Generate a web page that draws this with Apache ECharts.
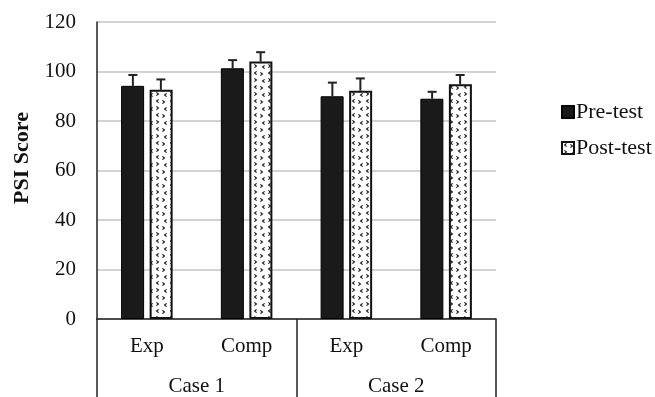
<!DOCTYPE html>
<html>
<head>
<meta charset="utf-8">
<script src="https://cdn.jsdelivr.net/npm/echarts@6/dist/echarts.min.js"></script>
<style>
  html, body { margin: 0; padding: 0; background: #fff; }
  #chart { width: 655px; height: 397px; }
</style>
</head>
<body>
<div id="chart"></div>
<script>
// Group labels on the two-level category axis
const conditions = ['Exp', 'Comp', 'Exp', 'Comp'];
const cases = ['Case 1', 'Case 2'];
const yTicks = [0, 20, 40, 60, 80, 100, 120];
const yTitle = 'PSI Score';

// Mean PSI scores and upper error (mean + SD) per condition
const preTest = [94.2, 101.3, 90.0, 89.0];
const preTestUpper = [98.6, 104.6, 95.5, 91.8];
const postTest = [92.6, 104.0, 92.2, 94.8];
const postTestUpper = [96.8, 107.8, 97.2, 98.6];

const FONT = '"Liberation Serif", "Times New Roman", serif';

// Dotted chevron fill used for the post-test bars
function makePattern() {
  const c = document.createElement('canvas');
  c.width = 14; c.height = 14;
  const g = c.getContext('2d');
  g.fillStyle = '#fff';
  g.fillRect(0, 0, 14, 14);
  g.strokeStyle = '#1a1a1a';
  g.lineWidth = 1.2;
  const chev = (x, y, dir) => {
    g.beginPath();
    g.moveTo(x + dir * 1.6, y - 1.6);
    g.lineTo(x - dir * 0.4, y);
    g.lineTo(x + dir * 1.6, y + 1.6);
    g.stroke();
  };
  chev(3, 3, 1);
  chev(10, 4, -1);
  chev(4, 10, -1);
  chev(11, 11, 1);
  return c;
}
const pattern = { image: makePattern(), repeat: 'repeat' };

function errorSeries(name, upper, base, offset) {
  return {
    type: 'custom',
    name: name + ' err',
    xAxisIndex: 0,
    silent: true,
    z: 5,
    data: upper.map((u, i) => [i, base[i], u]),
    renderItem: function (params, api) {
      const top = api.coord([api.value(0), api.value(2)]);
      const bot = api.coord([api.value(0), api.value(1)]);
      const x = top[0] + offset;
      const style = { stroke: '#222', lineWidth: 2 };
      return {
        type: 'group',
        children: [
          { type: 'line', shape: { x1: x, y1: bot[1], x2: x, y2: top[1] }, style: style },
          { type: 'line', shape: { x1: x - 4.5, y1: top[1], x2: x + 4.5, y2: top[1] }, style: style }
        ]
      };
    }
  };
}

const chart = echarts.init(document.getElementById('chart'));
chart.setOption({
  animation: false,
  backgroundColor: '#fff',
  textStyle: { fontFamily: FONT },
  grid: { left: 97, right: 159, top: 22, bottom: 78 },
  graphic: [{
    type: 'text',
    x: 22,
    y: 158,
    rotation: Math.PI / 2,
    style: {
      text: yTitle,
      font: 'bold 22px ' + FONT,
      fill: '#111',
      align: 'center',
      verticalAlign: 'middle'
    }
  }],
  legend: {
    orient: 'vertical',
    left: 556,
    top: 96,
    icon: 'rect',
    itemWidth: 12,
    itemHeight: 12,
    itemGap: 14,
    data: ['Pre-test', 'Post-test'],
    textStyle: { fontFamily: FONT, fontSize: 22, color: '#111', padding: [0, 0, 0, -3] }
  },
  xAxis: [
    {
      type: 'category',
      data: conditions,
      position: 'bottom',
      axisLine: { show: true, lineStyle: { color: '#222', width: 1.5 } },
      axisTick: { show: false },
      axisLabel: { fontFamily: FONT, fontSize: 21, color: '#111', margin: 17 }
    },
    {
      type: 'category',
      data: cases,
      position: 'bottom',
      axisLine: { show: false },
      axisTick: { show: true, length: 80, lineStyle: { color: '#222', width: 1.5 } },
      axisLabel: { fontFamily: FONT, fontSize: 21, color: '#111', margin: 57 }
    }
  ],
  yAxis: {
    type: 'value',
    min: yTicks[0],
    max: yTicks[yTicks.length - 1],
    interval: 20,
    axisLine: { show: true, lineStyle: { color: '#222', width: 1.5 } },
    axisTick: { show: false },
    axisLabel: { fontFamily: FONT, fontSize: 21, color: '#111', margin: 21 },
    splitLine: { lineStyle: { color: '#c4c4c4', width: 1.5 } }
  },
  series: [
    {
      type: 'bar',
      name: 'Pre-test',
      xAxisIndex: 0,
      data: preTest,
      barWidth: 23,
      barGap: '24%',
      itemStyle: { color: '#1a1a1a', borderColor: '#000', borderWidth: 1 }
    },
    {
      type: 'bar',
      name: 'Post-test',
      xAxisIndex: 0,
      data: postTest,
      barWidth: 23,
      itemStyle: { color: pattern, borderColor: '#111', borderWidth: 2 }
    },
    errorSeries('Pre-test', preTestUpper, preTest, -14),
    errorSeries('Post-test', postTestUpper, postTest, 14)
  ]
});
</script>
</body>
</html>
